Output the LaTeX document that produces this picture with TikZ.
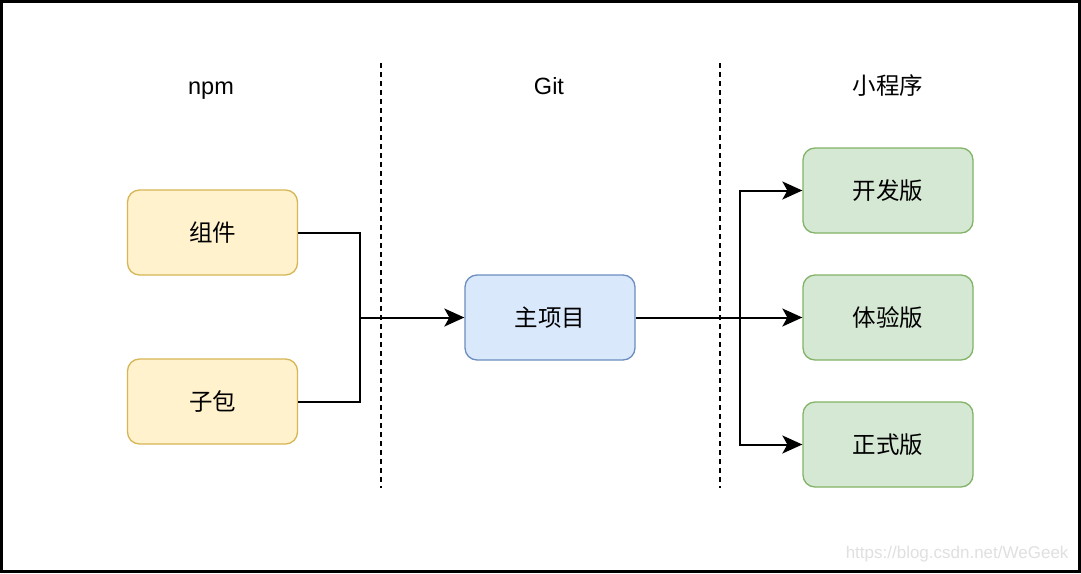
\documentclass[tikz,border=0pt]{standalone}
\usepackage{fontspec}
\setmainfont{Liberation Sans}
\newfontfamily\cjk{Noto Sans CJK SC}
\usetikzlibrary{arrows.meta}
\definecolor{yfill}{HTML}{FFF2CC}\definecolor{ydraw}{HTML}{D6B656}
\definecolor{bfill}{HTML}{DAE8FC}\definecolor{bdraw}{HTML}{6C8EBF}
\definecolor{gfill}{HTML}{D5E8D4}\definecolor{gdraw}{HTML}{82B366}
\begin{document}
\begin{tikzpicture}[x=1pt,y=-1pt,
  box/.style={rounded corners=12pt,minimum width=170pt,minimum height=85pt,line width=1.3pt,inner sep=0pt,font=\fontsize{23.5}{26}\selectfont\cjk},
  ybox/.style={box,fill=yfill,draw=ydraw},
  bbox/.style={box,fill=bfill,draw=bdraw},
  gbox/.style={box,fill=gfill,draw=gdraw},
  head/.style={anchor=base,inner sep=0pt,font=\fontsize{23.5}{26}\selectfont},
  conn/.style={line width=2pt,black},
  arr/.style={conn,-{Stealth[length=20pt,width=18pt,inset=5pt]}},
  sep/.style={line width=2pt,dash pattern=on 5pt off 4pt}]
\useasboundingbox (0,0) rectangle (1081,573);
\draw[line width=3pt,fill=white] (1.5,1.5) rectangle (1079.5,571.5);
\coordinate (s1a) at (381,63); \coordinate (s1b) at (381,488);
\coordinate (s2a) at (720,63); \coordinate (s2b) at (720,488);
\draw[sep] (s1a) -- (s1b);
\draw[sep] (s2a) -- (s2b);
\node[head] (hnpm) at (211,94) {npm};
\node[head] (hgit) at (549,94) {Git};
\node[head,font=\fontsize{23.5}{26}\selectfont\cjk] (hmp) at (888,94) {小程序};
\node[ybox] (zj) at (212.5,232.5) {组件};
\node[ybox] (zb) at (212.5,401.5) {子包};
\node[bbox] (main) at (550,317.5) {主项目};
\node[gbox] (kf) at (888,190.5) {开发版};
\node[gbox] (ty) at (888,317.5) {体验版};
\node[gbox] (zs) at (888,444.5) {正式版};
\coordinate (j1) at (360,317.5);
\coordinate (j2) at (740,317.5);
\draw[conn] (zj.east) -| (j1);
\draw[conn] (zb.east) -| (j1);
\draw[arr] (j1) -- (main.west);
\draw[arr] (main.east) -- (ty.west);
\draw[arr] (j2) |- (kf.west);
\draw[arr] (j2) |- (zs.west);
\node[text=black!12,font=\fontsize{17}{20}\selectfont,anchor=east] (wm) at (1072,554) {https://blog.csdn.net/WeGeek};
\end{tikzpicture}
\end{document}
